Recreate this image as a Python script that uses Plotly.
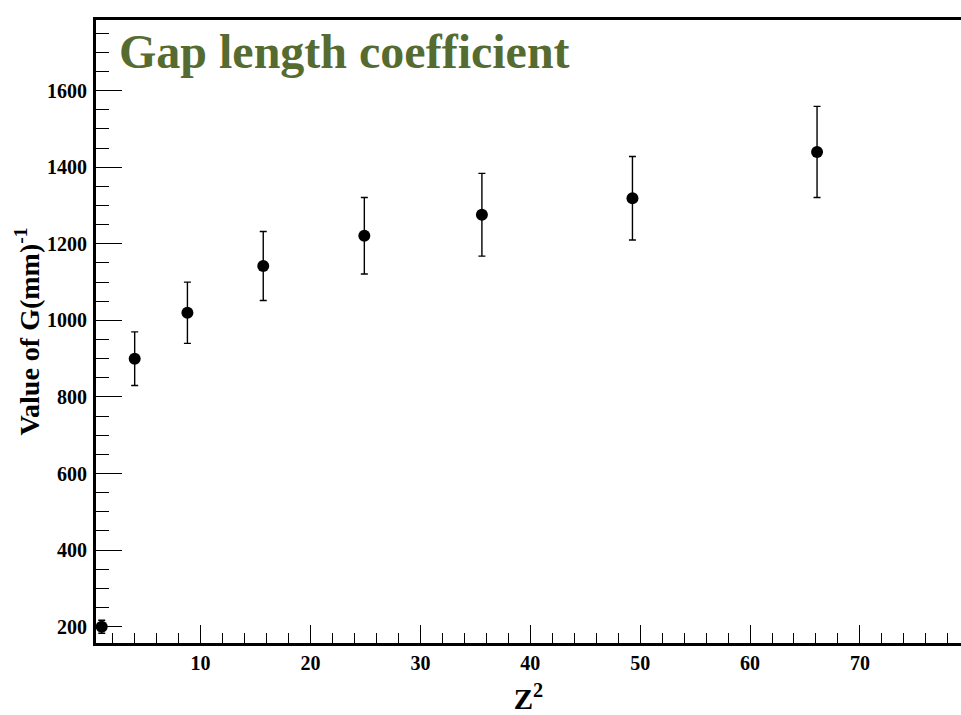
import plotly.graph_objects as go

# Gap length coefficient G versus Z^2
z_squared = [1.0, 4.0, 8.8, 15.7, 24.9, 35.6, 49.3, 66.1]
g_value = [200, 900, 1020, 1142, 1221, 1276, 1319, 1440]
g_error = [17, 70, 80, 90, 100, 108, 109, 119]

x_range = [0.48, 79.2]
y_range = [157.4, 1784.6]

SERIF = "Liberation Serif"

fig = go.Figure()
fig.add_trace(go.Scatter(
    x=z_squared,
    y=g_value,
    mode="markers",
    marker=dict(color="black", size=12, symbol="circle"),
    error_y=dict(type="data", array=g_error, visible=True,
                 color="black", thickness=1.4, width=3.5),
    showlegend=False,
))

axis_font = dict(family=SERIF, size=20, color="black", weight="bold")

fig.update_layout(
    width=961,
    height=715,
    margin=dict(l=96, r=0, t=20, b=72),
    paper_bgcolor="white",
    plot_bgcolor="white",
    xaxis=dict(
        range=x_range,
        showgrid=False,
        zeroline=False,
        showline=True,
        linecolor="black",
        linewidth=3,
        mirror=True,
        ticks="inside",
        ticklen=18,
        tickwidth=1.3,
        tickcolor="black",
        tick0=0,
        dtick=10,
        minor=dict(ticks="inside", ticklen=10, tickwidth=1.3,
                   tickcolor="black", dtick=2, tick0=0, showgrid=False),
        tickfont=axis_font,
        ticklabelstandoff=0,
        title=dict(text="Z<sup>2</sup>",
                   font=dict(family=SERIF, size=29, color="black", weight="bold"),
                   standoff=16),
    ),
    yaxis=dict(
        range=y_range,
        showgrid=False,
        zeroline=False,
        showline=True,
        linecolor="black",
        linewidth=3,
        mirror=False,
        ticks="inside",
        ticklen=26,
        tickwidth=1.3,
        tickcolor="black",
        tick0=0,
        dtick=200,
        minor=dict(ticks="inside", ticklen=13, tickwidth=1.3,
                   tickcolor="black", dtick=50, tick0=0, showgrid=False),
        tickfont=axis_font,
        ticklabelstandoff=2,
        title=dict(text="Value of G(mm)<sup>-1</sup>",
                   font=dict(family=SERIF, size=28, color="black", weight="bold"),
                   standoff=0),
    ),
)

fig.add_annotation(
    text="Gap length coefficient",
    xref="paper", yref="paper",
    x=(117 - 96) / (961 - 96), y=1.0 - (23 - 20) / (715 - 92),
    xanchor="left", yanchor="top",
    showarrow=False,
    font=dict(family=SERIF, size=48, color="#556B2F", weight="bold"),
)

fig.write_html("out.html")
